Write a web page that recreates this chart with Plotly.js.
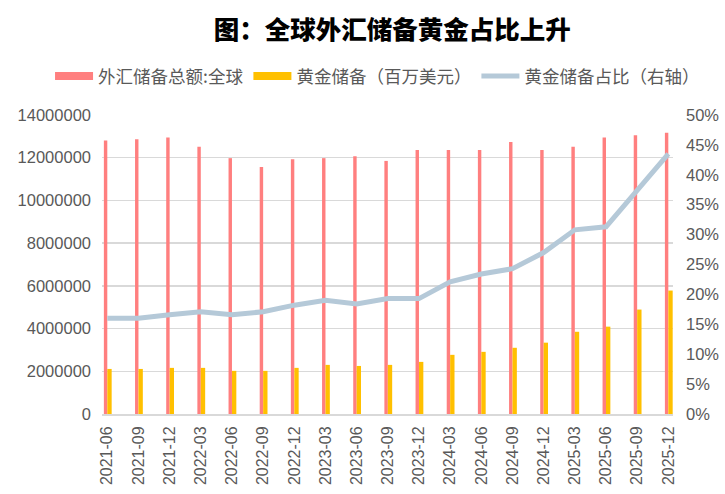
<!DOCTYPE html>
<html>
<head>
<meta charset="utf-8">
<script src="https://cdn.plot.ly/plotly-3.0.1.min.js"></script>
<style>
  html, body { margin: 0; padding: 0; background: #fff; }
  #chart { width: 725px; height: 494px; }
</style>
</head>
<body>
<div id="chart"></div>
<script>
// quarter labels
const quarters = [
    '2021-06', '2021-09', '2021-12', '2022-03', '2022-06', '2022-09',
    '2022-12', '2023-03', '2023-06', '2023-09', '2023-12', '2024-03',
    '2024-06', '2024-09', '2024-12', '2025-03', '2025-06', '2025-09', '2025-12'
];

// global FX reserves total
const fxReserves = [
    12810000, 12870000, 12950000, 12510000, 11980000, 11560000,
    11930000, 11980000, 12070000, 11850000, 12360000, 12360000,
    12360000, 12730000, 12360000, 12510000, 12950000, 13050000, 13170000
];

// gold reserves (million USD)
const goldReserves = [
    2110000, 2110000, 2160000, 2160000, 2020000, 2020000,
    2160000, 2300000, 2250000, 2300000, 2440000, 2770000,
    2910000, 3100000, 3340000, 3850000, 4090000, 4890000, 5780000
];

// gold share, right axis
const goldShare = [
    0.160, 0.160, 0.166, 0.171, 0.166, 0.171,
    0.182, 0.190, 0.184, 0.193, 0.193, 0.221,
    0.234, 0.243, 0.270, 0.308, 0.313, 0.373, 0.435
];

const seriesNames = ['外汇储备总额:全球', '黄金储备（百万美元）', '黄金储备占比（右轴）'];

const RED = '#FF7F7F';
const GOLD = '#FFC000';
const LINE = '#B5C9D8';
const GRID = '#D9D9D9';
const TEXT = '#595959';
const FONT = 'Liberation Sans, Arial, "Noto Sans CJK SC", sans-serif';

const traces = [
    {
        type: 'bar', x: quarters, y: fxReserves, name: seriesNames[0],
        marker: { color: RED }, width: 0.11, offset: -0.11,
        showlegend: false, yaxis: 'y'
    },
    {
        type: 'bar', x: quarters, y: goldReserves, name: seriesNames[1],
        marker: { color: GOLD }, width: 0.14, offset: 0,
        showlegend: false, yaxis: 'y'
    },
    // legend-only entries so the swatches come out as wide strips
    {
        type: 'scatter', mode: 'lines', x: [null], y: [null], name: seriesNames[0],
        line: { color: RED, width: 8 }, hoverinfo: 'skip'
    },
    {
        type: 'scatter', mode: 'lines', x: [null], y: [null], name: seriesNames[1],
        line: { color: GOLD, width: 8 }, hoverinfo: 'skip'
    },
    {
        type: 'scatter', mode: 'lines', x: quarters, y: goldShare, name: seriesNames[2],
        line: { color: LINE, width: 5 }, yaxis: 'y2'
    }
];

const layout = {
    width: 725,
    height: 494,
    paper_bgcolor: '#fff',
    plot_bgcolor: '#fff',
    font: { family: FONT, color: TEXT, size: 16 },
    margin: { l: 102, r: 52, t: 115, b: 80 },
    barmode: 'overlay',
    title: {
        text: '图：全球外汇储备黄金占比上升',
        font: { family: '"Noto Sans CJK SC", sans-serif', size: 25.5, color: '#000', weight: 900 },
        x: 0.541, xanchor: 'center', xref: 'container',
        y: 0.94, yanchor: 'middle', yref: 'container'
    },
    // x < 0 so the legend may use the left margin and stay on one row
    legend: {
        orientation: 'h',
        x: -0.091, xanchor: 'left',
        y: 1.13, yanchor: 'middle',
        font: { family: '"Noto Sans CJK SC", sans-serif', size: 17.5, color: TEXT },
        itemwidth: 38,
        traceorder: 'normal'
    },
    xaxis: {
        type: 'category',
        range: [-0.17, 18.15],
        tickangle: -90,
        showgrid: false,
        showline: true, linecolor: GRID, linewidth: 2,
        ticks: '',
        ticklabelstandoff: 4,
        tickfont: { size: 16, color: TEXT }
    },
    yaxis: {
        range: [0, 14000000],
        dtick: 2000000,
        tickformat: 'd',
        gridcolor: GRID, gridwidth: 1.5,
        zeroline: false,
        ticks: '',
        ticklabelstandoff: 10,
        tickfont: { size: 16.5, color: TEXT }
    },
    yaxis2: {
        overlaying: 'y',
        side: 'right',
        range: [0, 0.5],
        dtick: 0.05,
        tickformat: '.0%',
        showgrid: false,
        zeroline: false,
        ticks: '',
        ticklabelstandoff: 12,
        tickfont: { size: 16.5, color: TEXT }
    }
};

Plotly.newPlot('chart', traces, layout, { displayModeBar: false, staticPlot: true });
</script>
</body>
</html>
